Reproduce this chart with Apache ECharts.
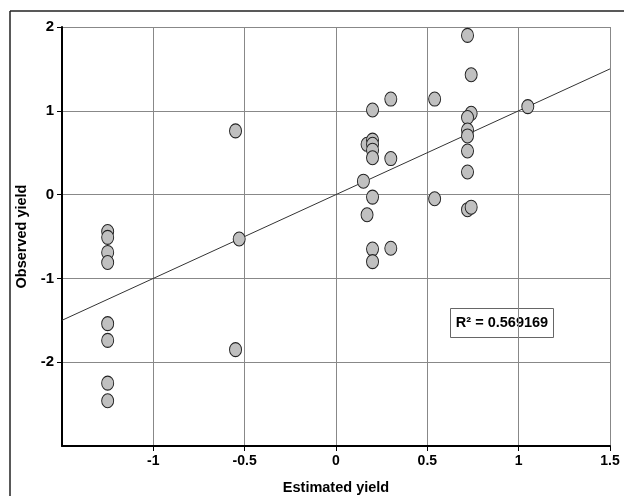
<!DOCTYPE html>
<html>
<head>
<meta charset="utf-8">
<script src="https://cdn.jsdelivr.net/npm/echarts@6/dist/echarts.min.js"></script>
<style>
    html, body { margin: 0; padding: 0; background: #fff; }
    #main { width: 624px; height: 496px; }
</style>
</head>
<body>
<div id="main"></div>
<script>
// estimated vs observed yield (same order in both arrays)
var estimated = [
    -1.25, -1.25, -1.25, -1.25, -1.25, -1.25, -1.25, -1.25,
    -0.55, -0.53, -0.55,
    0.15, 0.17, 0.17,
    0.20, 0.20, 0.20, 0.20, 0.20, 0.20, 0.20, 0.20,
    0.30, 0.30, 0.30,
    0.54, 0.54,
    0.72, 0.74, 0.74, 0.72, 0.72, 0.72, 0.72, 0.72, 0.72, 0.74,
    1.05
];
var observed = [
    -0.44, -0.51, -0.69, -0.81, -1.54, -1.74, -2.25, -2.46,
    0.76, -0.53, -1.85,
    0.16, 0.60, -0.24,
    1.01, 0.65, 0.60, 0.53, 0.44, -0.03, -0.65, -0.80,
    1.14, 0.43, -0.64,
    1.14, -0.05,
    1.90, 1.43, 0.97, 0.92, 0.77, 0.70, 0.52, 0.27, -0.18, -0.15,
    1.05
];
var fitX = [-1.5, 1.5];
var fitY = [-1.5, 1.5];
var xTicks = [-1, -0.5, 0, 0.5, 1, 1.5];
var yTicks = [-2, -1, 0, 1, 2];
var r2Text = 'R² = 0.569169';

var font = 'Liberation Sans, Arial, sans-serif';
var points = estimated.map(function (x, i) { return [x, observed[i]]; });
var fitLine = fitX.map(function (x, i) { return [x, fitY[i]]; });

var myChart = echarts.init(document.getElementById('main'));
myChart.setOption({
    animation: false,
    grid: { left: 62, right: 14, top: 27, bottom: 50, outerBoundsMode: 'none' },
    xAxis: {
        type: 'value',
        min: -1.5,
        max: 1.5,
        interval: 0.5,
        name: 'Estimated yield',
        nameLocation: 'middle',
        nameGap: 34,
        nameTextStyle: { fontFamily: font, fontWeight: 'bold', fontSize: 14.5, color: '#000' },
        axisLine: { onZero: false, lineStyle: { color: '#000', width: 2 } },
        axisTick: { show: true, length: 5, customValues: xTicks, lineStyle: { color: '#000' } },
        axisLabel: {
            customValues: xTicks,
            fontFamily: font, fontWeight: 'bold', fontSize: 14, color: '#000', margin: 8
        },
        splitLine: { show: true, lineStyle: { color: '#888', width: 1 } }
    },
    yAxis: {
        type: 'value',
        min: -3,
        max: 2,
        interval: 1,
        name: 'Observed yield',
        nameLocation: 'middle',
        nameGap: 33,
        nameTextStyle: { fontFamily: font, fontWeight: 'bold', fontSize: 14.5, color: '#000' },
        axisLine: { onZero: false, lineStyle: { color: '#000', width: 2 } },
        axisTick: { show: true, length: 5, customValues: yTicks, lineStyle: { color: '#000' } },
        axisLabel: {
            customValues: yTicks,
            fontFamily: font, fontWeight: 'bold', fontSize: 15, color: '#000', margin: 8
        },
        splitLine: { show: true, lineStyle: { color: '#888', width: 1 } }
    },
    series: [
        {
            type: 'line',
            data: fitLine,
            symbol: 'none',
            lineStyle: { color: '#333', width: 1 },
            z: 2
        },
        {
            type: 'scatter',
            data: points,
            symbol: 'circle',
            symbolSize: [12, 14],
            itemStyle: { color: '#c0c0c0', borderColor: '#222', borderWidth: 1, opacity: 1 },
            z: 3
        }
    ],
    graphic: [
        { type: 'line', shape: { x1: 10, y1: 11, x2: 624, y2: 11 }, style: { stroke: '#222', lineWidth: 1.5 } },
        { type: 'line', shape: { x1: 10, y1: 11, x2: 10, y2: 496 }, style: { stroke: '#222', lineWidth: 1.5 } },
        {
            type: 'group',
            left: 450,
            top: 308,
            z: 10,
            children: [
                { type: 'rect', shape: { x: 0, y: 0, width: 103, height: 29 }, style: { fill: '#fff', stroke: '#666', lineWidth: 1 } },
                {
                    type: 'text', x: 51.5, y: 14.5,
                    style: { text: r2Text, fontFamily: font, fontWeight: 'bold', fontSize: 14.5, fill: '#000', align: 'center', verticalAlign: 'middle' }
                }
            ]
        }
    ]
});
window.onresize = myChart.resize;
</script>
</body>
</html>
